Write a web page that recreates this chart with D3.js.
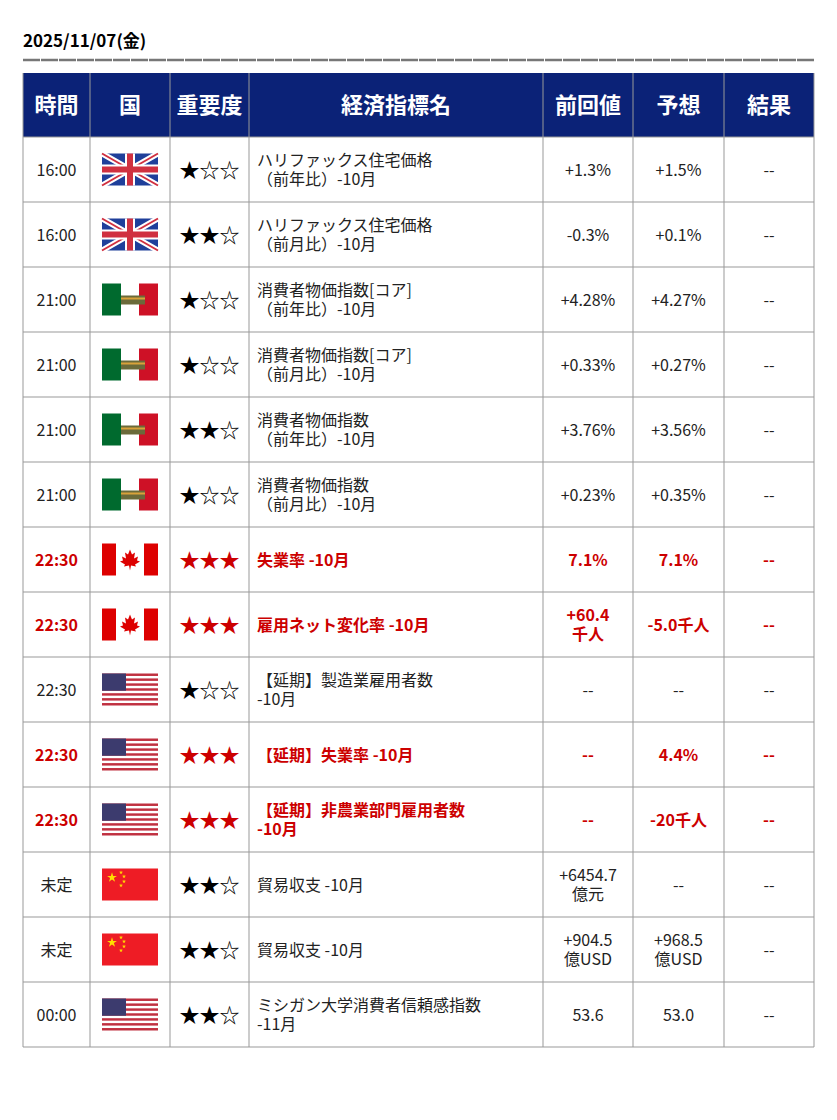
<!DOCTYPE html>
<html><head><meta charset="utf-8">
<script src="https://cdn.jsdelivr.net/npm/d3@7"></script>
<style>body{margin:0;background:#fff}text{font-family:"Noto Sans CJK JP",sans-serif}</style>
</head><body>
<svg id="c" width="837" height="1120"></svg>
<script>
const dateLabel = "2025/11/07(金)";
const headers = ["時間", "国", "重要度", "経済指標名", "前回値", "予想", "結果"];
const times = ["16:00","16:00","21:00","21:00","21:00","21:00","22:30","22:30","22:30","22:30","22:30","未定","未定","00:00"];
const countries = ["uk","uk","mx","mx","mx","mx","ca","ca","us","us","us","cn","cn","us"];
const stars = [1,2,1,1,2,1,3,3,1,3,3,2,2,2];
const names = [
  ["ハリファックス住宅価格","（前年比）-10月"],
  ["ハリファックス住宅価格","（前月比）-10月"],
  ["消費者物価指数[コア]","（前年比）-10月"],
  ["消費者物価指数[コア]","（前月比）-10月"],
  ["消費者物価指数","（前年比）-10月"],
  ["消費者物価指数","（前月比）-10月"],
  ["失業率 -10月"],
  ["雇用ネット変化率 -10月"],
  ["【延期】製造業雇用者数"," -10月"],
  ["【延期】失業率 -10月"],
  ["【延期】非農業部門雇用者数"," -10月"],
  ["貿易収支 -10月"],
  ["貿易収支 -10月"],
  ["ミシガン大学消費者信頼感指数"," -11月"]
];
const previous = [["+1.3%"],["-0.3%"],["+4.28%"],["+0.33%"],["+3.76%"],["+0.23%"],["7.1%"],["+60.4","千人"],["--"],["--"],["--"],["+6454.7","億元"],["+904.5","億USD"],["53.6"]];
const forecast = [["+1.5%"],["+0.1%"],["+4.27%"],["+0.27%"],["+3.56%"],["+0.35%"],["7.1%"],["-5.0千人"],["--"],["4.4%"],["-20千人"],["--"],["+968.5","億USD"],["53.0"]];
const result = times.map(() => ["--"]);

const svg = d3.select("#c");
const colEdges = [23, 90, 170, 249, 543, 633, 724, 814];
const tableTop = 73, headH = 64, rowH = 65;
const y = d3.scaleBand().domain(d3.range(times.length)).range([tableTop + headH, tableTop + headH + rowH * times.length]);
const RED = "#cc0000", NAVY = "#0b2277", GRID = "#999";

svg.append("text").attr("x", 23).attr("y", 47).attr("font-size", 17).attr("font-weight", 700).text(dateLabel);
svg.append("line").attr("x1", 23).attr("x2", 814).attr("y1", 60).attr("y2", 60).attr("stroke", "#777").attr("stroke-width", 2.5).attr("stroke-dasharray", "17 1");

svg.append("rect").attr("x", 23).attr("y", tableTop).attr("width", 791).attr("height", headH).attr("fill", NAVY);
headers.forEach((h, i) => {
  svg.append("text").attr("x", (colEdges[i] + colEdges[i+1]) / 2).attr("y", tableTop + headH/2 + 8)
    .attr("text-anchor", "middle").attr("fill", "#fff").attr("font-size", 22).attr("font-weight", 700).text(h);
});

function flag(g, c, x0, y0) {
  const w = 56, h = 32;
  const f = g.append("g").attr("transform", `translate(${x0},${y0})`);
  if (c === "uk") {
    f.append("rect").attr("width", w).attr("height", h).attr("fill", "#1f3f9a");
    f.append("path").attr("d", `M0,0L${w},${h}M${w},0L0,${h}`).attr("stroke", "#fff").attr("stroke-width", 6);
    f.append("path").attr("d", `M0,0L${w},${h}M${w},0L0,${h}`).attr("stroke", "#d03040").attr("stroke-width", 2);
    f.append("path").attr("d", `M${w/2},0V${h}M0,${h/2}H${w}`).attr("stroke", "#fff").attr("stroke-width", 10);
    f.append("path").attr("d", `M${w/2},0V${h}M0,${h/2}H${w}`).attr("stroke", "#d03040").attr("stroke-width", 6);
  } else if (c === "mx") {
    f.append("rect").attr("width", w).attr("height", h).attr("fill", "#fff");
    f.append("rect").attr("width", 19).attr("height", h).attr("fill", "#006a2e");
    f.append("rect").attr("x", 37).attr("width", 19).attr("height", h).attr("fill", "#ce1126");
    f.append("rect").attr("x", 19).attr("y", 12).attr("width", 24).attr("height", 9).attr("fill", "#6b6a3a");
    f.append("rect").attr("x", 19).attr("y", 14).attr("width", 24).attr("height", 2).attr("fill", "#d9a23a");
  } else if (c === "ca") {
    f.append("rect").attr("width", w).attr("height", h).attr("fill", "#fff");
    f.append("rect").attr("width", 14).attr("height", h).attr("fill", "#d00");
    f.append("rect").attr("x", 42).attr("width", 14).attr("height", h).attr("fill", "#d00");
    f.append("path").attr("d", "M28,6L30,11L33,9L32,15L36,13L35,17L38,18L33,21L34,23L29,22L28,27L27,22L22,23L23,21L18,18L21,17L20,13L24,15L23,9L26,11Z").attr("fill", "#d00");
  } else if (c === "us") {
    f.append("rect").attr("width", w).attr("height", h).attr("fill", "#fff");
    d3.range(0, 13, 2).forEach(i => f.append("rect").attr("y", i * h/13).attr("width", w).attr("height", h/13).attr("fill", "#c03040"));
    f.append("rect").attr("width", 24).attr("height", h*7/13).attr("fill", "#3c3b6e");
  } else if (c === "cn") {
    f.append("rect").attr("width", w).attr("height", h).attr("fill", "#ee1c25");
    const st = d3.symbol().type(d3.symbolStar);
    f.append("path").attr("d", st.size(30)()).attr("transform", "translate(10,9)").attr("fill", "#ffde00");
    [[19,4],[22,8],[22,13],[19,17]].forEach(p => f.append("path").attr("d", st.size(5)()).attr("transform", `translate(${p})`).attr("fill", "#ffde00"));
  }
}

const cx = i => (colEdges[i] + colEdges[i+1]) / 2;
function multi(g, lines, x, yc, anchor, attrs) {
  const lh = 19, y0 = yc - (lines.length - 1) * lh / 2 + 6;
  lines.forEach((l, k) => {
    const t = g.append("text").attr("x", x).attr("y", y0 + k * lh).attr("text-anchor", anchor).attr("font-size", 16).text(l);
    Object.entries(attrs).forEach(([a, v]) => t.attr(a, v));
  });
}

const rows = svg.selectAll("g.row").data(times).join("g").attr("class", "row");
rows.each(function(t, i) {
  const g = d3.select(this), yc = y(i) + rowH / 2;
  const imp = stars[i] === 3;
  const attrs = imp ? { fill: RED, "font-weight": 700 } : { fill: "#222" };
  multi(g, [t], cx(0), yc, "middle", attrs);
  flag(g, countries[i], 102, yc - 16);
  const s = "★".repeat(stars[i]) + "☆".repeat(3 - stars[i]);
  g.append("text").attr("x", cx(2)).attr("y", yc + 8).attr("text-anchor", "middle").attr("font-size", 20)
    .attr("font-family", "DejaVu Sans").attr("fill", imp ? RED : "#000").text(s);
  multi(g, names[i], 257, yc, "start", attrs);
  multi(g, previous[i], cx(4), yc, "middle", attrs);
  multi(g, forecast[i], cx(5), yc, "middle", attrs);
  multi(g, result[i], cx(6), yc, "middle", attrs);
});

const yEnd = y.range()[1];
colEdges.forEach(x => svg.append("line").attr("x1", x).attr("x2", x).attr("y1", tableTop).attr("y2", yEnd).attr("stroke", GRID));
d3.range(times.length + 1).forEach(i => {
  const yy = tableTop + headH + i * rowH;
  svg.append("line").attr("x1", 23).attr("x2", 814).attr("y1", yy).attr("y2", yy).attr("stroke", GRID);
});
</script>
</body></html>
